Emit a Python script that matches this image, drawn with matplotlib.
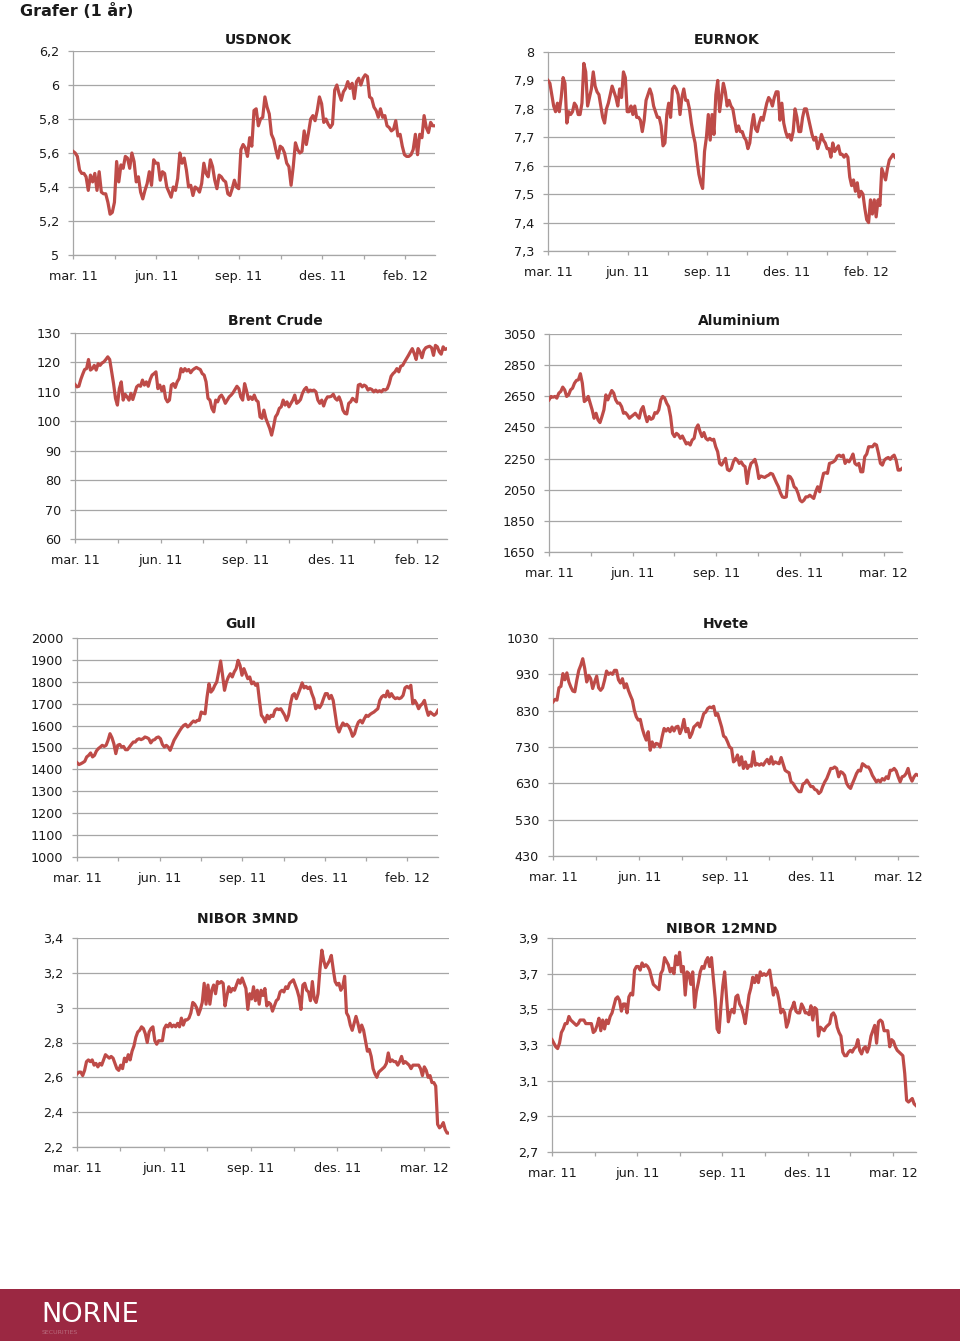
import matplotlib
matplotlib.use("Agg")
import matplotlib.pyplot as plt
from matplotlib.patches import Rectangle

plt.rcParams["font.family"] = ["DejaVu Sans"]

W, H = 960, 1341
RED = "#BE4B48"
GRID = "#A6A6A6"
TXT = "#1a1a1a"

labels_feb = ["mar. 11", "jun. 11", "sep. 11", "des. 11", "feb. 12"]
labels_mar = ["mar. 11", "jun. 11", "sep. 11", "des. 11", "mar. 12"]

# --- data (one year of daily-ish closes) ---
usdnok = [5.61, 5.60, 5.58, 5.50, 5.48, 5.48, 5.46, 5.38, 5.47, 5.43, 5.48, 5.38, 5.49, 5.37,
          5.36, 5.36, 5.31, 5.24, 5.25, 5.31, 5.55, 5.43, 5.53, 5.51, 5.58, 5.57, 5.51, 5.60,
          5.55, 5.43, 5.46, 5.37, 5.33, 5.38, 5.42, 5.49, 5.41, 5.56, 5.54, 5.54, 5.44, 5.49,
          5.48, 5.40, 5.37, 5.34, 5.40, 5.38, 5.45, 5.60, 5.54, 5.57, 5.50, 5.40, 5.41, 5.35,
          5.40, 5.39, 5.37, 5.42, 5.54, 5.48, 5.46, 5.56, 5.52, 5.44, 5.39, 5.47, 5.46, 5.44,
          5.43, 5.36, 5.35, 5.39, 5.44, 5.40, 5.39, 5.62, 5.65, 5.63, 5.58, 5.69, 5.64, 5.85,
          5.86, 5.76, 5.80, 5.81, 5.93, 5.87, 5.83, 5.71, 5.68, 5.62, 5.57, 5.64, 5.63, 5.60,
          5.54, 5.52, 5.41, 5.52, 5.66, 5.62, 5.60, 5.61, 5.73, 5.65, 5.72, 5.80, 5.82, 5.79,
          5.85, 5.93, 5.89, 5.78, 5.80, 5.77, 5.75, 5.77, 5.97, 6.00, 5.95, 5.91, 5.96, 5.98,
          6.02, 5.98, 6.01, 5.92, 6.02, 6.04, 6.00, 6.04, 6.06, 6.05, 5.93, 5.92, 5.87, 5.85,
          5.81, 5.86, 5.81, 5.82, 5.76, 5.75, 5.73, 5.74, 5.79, 5.70, 5.71, 5.64, 5.59, 5.58,
          5.58, 5.59, 5.62, 5.71, 5.59, 5.71, 5.69, 5.82, 5.75, 5.72, 5.78, 5.76, 5.76]
usdnok_ticks = [5.0, 5.2, 5.4, 5.6, 5.8, 6.0, 6.2]

eurnok = [7.90, 7.89, 7.85, 7.81, 7.79, 7.82, 7.79, 7.84, 7.91, 7.89, 7.75, 7.79, 7.78, 7.79,
          7.82, 7.81, 7.78, 7.78, 7.82, 7.96, 7.93, 7.81, 7.84, 7.87, 7.93, 7.88, 7.86, 7.85,
          7.81, 7.77, 7.75, 7.80, 7.82, 7.85, 7.88, 7.86, 7.84, 7.81, 7.87, 7.84, 7.93, 7.91,
          7.79, 7.79, 7.81, 7.78, 7.81, 7.77, 7.77, 7.76, 7.72, 7.76, 7.83, 7.85, 7.87, 7.85,
          7.81, 7.79, 7.77, 7.77, 7.74, 7.67, 7.68, 7.78, 7.82, 7.77, 7.87, 7.88, 7.87, 7.85,
          7.78, 7.84, 7.87, 7.83, 7.83, 7.80, 7.75, 7.71, 7.68, 7.62, 7.57, 7.54, 7.52, 7.65,
          7.70, 7.78, 7.69, 7.78, 7.71, 7.85, 7.90, 7.79, 7.84, 7.89, 7.86, 7.81, 7.83, 7.81,
          7.80, 7.76, 7.72, 7.74, 7.72, 7.72, 7.70, 7.69, 7.66, 7.68, 7.74, 7.78, 7.73, 7.72,
          7.75, 7.77, 7.76, 7.79, 7.82, 7.84, 7.83, 7.81, 7.84, 7.86, 7.86, 7.76, 7.82, 7.75,
          7.72, 7.70, 7.71, 7.69, 7.72, 7.80, 7.77, 7.72, 7.72, 7.77, 7.80, 7.80, 7.77, 7.74,
          7.71, 7.69, 7.70, 7.66, 7.68, 7.71, 7.69, 7.68, 7.66, 7.66, 7.63, 7.68, 7.65, 7.66,
          7.67, 7.64, 7.64, 7.63, 7.64, 7.63, 7.56, 7.53, 7.55, 7.51, 7.54, 7.49, 7.51, 7.50,
          7.45, 7.41, 7.40, 7.48, 7.43, 7.48, 7.42, 7.48, 7.46, 7.59, 7.57, 7.55, 7.59, 7.62,
          7.63, 7.64, 7.63]
eurnok_ticks = [7.3, 7.4, 7.5, 7.6, 7.7, 7.8, 7.9, 8.0]

brent = [112.5, 111.7, 111.9, 114.2, 116.0, 117.6, 117.9, 121.0, 117.4, 117.9, 119.0, 117.4,
         119.6, 119.0, 119.8, 120.2, 121.0, 121.9, 121.0, 116.8, 112.8, 107.8, 105.5, 111.1,
         113.4, 107.2, 109.2, 108.3, 107.2, 109.5, 107.4, 109.5, 111.7, 112.3, 111.9, 114.0,
         112.3, 113.4, 111.9, 114.2, 115.7, 116.2, 116.8, 111.1, 112.3, 110.4, 111.9, 107.8,
         106.6, 107.2, 112.3, 112.8, 111.5, 113.4, 114.5, 117.9, 116.8, 117.9, 117.1, 117.6,
         116.5, 117.4, 117.9, 118.3, 117.9, 117.6, 116.2, 115.7, 113.4, 107.8, 107.2, 104.4,
         103.2, 107.2, 106.6, 108.3, 108.9, 107.8, 106.1, 107.2, 108.3, 108.9, 109.7, 110.8,
         111.9, 111.1, 108.3, 107.2, 112.8, 110.4, 107.4, 108.3, 107.4, 108.9, 107.2, 106.6,
         101.5, 101.0, 103.8, 101.0, 99.3, 97.6, 95.3, 98.2, 101.5, 102.5, 104.4, 104.9,
         107.2, 105.5, 106.6, 104.9, 106.1, 107.2, 108.9, 106.1, 106.6, 107.4, 109.5, 110.8,
         111.5, 110.0, 110.6, 110.4, 110.6, 110.0, 107.2, 106.1, 107.2, 105.2, 107.2, 108.3,
         108.3, 108.5, 109.2, 107.8, 107.2, 108.3, 106.6, 103.8, 102.7, 102.5, 106.1, 106.6,
         107.8, 107.2, 106.6, 112.3, 112.6, 111.7, 112.3, 111.9, 110.6, 111.1, 110.8, 110.0,
         110.6, 110.0, 110.4, 110.0, 110.8, 110.6, 111.1, 112.8, 115.3, 116.2, 116.8, 117.9,
         116.8, 118.7, 119.0, 120.2, 121.3, 122.4, 123.6, 124.7, 123.0, 121.0, 124.7, 123.6,
         121.6, 124.1, 125.0, 125.3, 125.5, 125.0, 122.4, 125.8, 125.3, 123.6, 122.8, 125.3,
         124.4, 124.7]
brent_ticks = [60, 70, 80, 90, 100, 110, 120, 130]

aluminium = [2627, 2649, 2644, 2649, 2638, 2670, 2681, 2709, 2691, 2649, 2659, 2691, 2702,
             2734, 2752, 2756, 2795, 2734, 2616, 2627, 2649, 2606, 2563, 2509, 2541, 2498,
             2481, 2520, 2563, 2659, 2627, 2659, 2687, 2670, 2627, 2606, 2606, 2584, 2541,
             2545, 2530, 2509, 2520, 2530, 2541, 2524, 2509, 2563, 2584, 2530, 2487, 2520,
             2502, 2509, 2545, 2541, 2563, 2627, 2649, 2638, 2606, 2584, 2520, 2412, 2391,
             2412, 2402, 2380, 2395, 2369, 2344, 2352, 2337, 2369, 2380, 2444, 2466, 2423,
             2391, 2417, 2380, 2369, 2380, 2369, 2374, 2326, 2294, 2219, 2208, 2229, 2251,
             2180, 2172, 2187, 2229, 2251, 2240, 2219, 2229, 2208, 2198, 2090, 2176, 2219,
             2229, 2245, 2198, 2122, 2138, 2133, 2129, 2138, 2144, 2155, 2150, 2122, 2094,
             2069, 2030, 2004, 2000, 2004, 2138, 2133, 2112, 2069, 2058, 2026, 1983, 1972,
             1983, 2004, 2004, 2015, 2004, 1994, 2037, 2069, 2037, 2101, 2155, 2159, 2155,
             2219, 2223, 2229, 2240, 2266, 2272, 2262, 2272, 2219, 2240, 2229, 2251, 2279,
             2219, 2208, 2219, 2165, 2165, 2262, 2279, 2326, 2326, 2326, 2344, 2337, 2283,
             2219, 2208, 2240, 2251, 2257, 2245, 2262, 2272, 2240, 2176, 2176, 2187]
aluminium_ticks = [1650, 1850, 2050, 2250, 2450, 2650, 2850, 3050]

gull = [1431, 1422, 1426, 1431, 1437, 1457, 1464, 1475, 1457, 1464, 1484, 1495, 1502, 1510,
        1505, 1510, 1533, 1563, 1545, 1517, 1472, 1510, 1514, 1502, 1505, 1490, 1490, 1502,
        1514, 1525, 1525, 1536, 1540, 1536, 1540, 1548, 1545, 1540, 1521, 1533, 1536, 1545,
        1548, 1540, 1514, 1502, 1510, 1502, 1487, 1510, 1533, 1548, 1563, 1578, 1591, 1601,
        1606, 1594, 1601, 1612, 1621, 1616, 1624, 1624, 1662, 1657, 1654, 1731, 1791, 1753,
        1764, 1784, 1799, 1845, 1895, 1830, 1761, 1799, 1822, 1837, 1822, 1845, 1860, 1898,
        1875, 1830, 1860, 1837, 1814, 1822, 1791, 1799, 1784, 1791, 1715, 1647, 1636, 1616,
        1647, 1631, 1647, 1642, 1670, 1677, 1673, 1677, 1662, 1647, 1624, 1647, 1700, 1738,
        1746, 1723, 1746, 1769, 1795, 1772, 1779, 1769, 1776, 1746, 1723, 1677, 1692, 1682,
        1697, 1723, 1746, 1746, 1723, 1738, 1715, 1654, 1594, 1571, 1594, 1612, 1601, 1606,
        1597, 1578, 1551, 1563, 1594, 1616, 1624, 1612, 1631, 1647, 1642, 1651, 1657, 1662,
        1670, 1677, 1715, 1731, 1738, 1731, 1758, 1731, 1746, 1731, 1723, 1727, 1723, 1727,
        1738, 1772, 1779, 1772, 1784, 1700, 1715, 1700, 1677, 1692, 1700, 1715, 1677, 1647,
        1662, 1654, 1647, 1654, 1670]
gull_ticks = [1000, 1100, 1200, 1300, 1400, 1500, 1600, 1700, 1800, 1900, 2000]

hvete = [854, 861, 859, 893, 897, 932, 915, 934, 909, 895, 884, 882, 914, 941, 955, 973, 946,
         909, 927, 918, 891, 909, 925, 893, 886, 893, 914, 939, 930, 934, 930, 941, 941, 915,
         906, 918, 893, 904, 886, 872, 859, 831, 813, 804, 806, 781, 763, 749, 772, 721, 744,
         730, 740, 738, 730, 758, 781, 774, 781, 772, 785, 774, 785, 787, 767, 781, 806, 772,
         781, 756, 767, 785, 790, 796, 785, 804, 822, 826, 836, 840, 838, 842, 817, 822, 804,
         785, 760, 756, 744, 730, 726, 689, 694, 708, 680, 703, 671, 689, 671, 680, 677, 717,
         680, 684, 680, 684, 680, 689, 696, 684, 703, 683, 689, 686, 684, 701, 684, 666, 662,
         659, 634, 630, 621, 613, 607, 607, 628, 631, 639, 630, 621, 621, 613, 611, 602, 607,
         622, 634, 643, 657, 671, 671, 675, 671, 648, 662, 659, 652, 630, 621, 616, 630, 643,
         657, 666, 664, 684, 680, 675, 675, 666, 652, 643, 634, 639, 634, 643, 639, 648, 643,
         666, 666, 671, 664, 648, 634, 648, 650, 657, 671, 648, 636, 648, 655, 652]
hvete_ticks = [430, 530, 630, 730, 830, 930, 1030]

nibor3 = [2.62, 2.63, 2.63, 2.61, 2.64, 2.69, 2.70, 2.69, 2.70, 2.67, 2.68, 2.66, 2.68, 2.67,
          2.70, 2.73, 2.72, 2.71, 2.72, 2.71, 2.68, 2.65, 2.64, 2.67, 2.65, 2.71, 2.69, 2.73,
          2.70, 2.75, 2.78, 2.83, 2.86, 2.87, 2.89, 2.88, 2.85, 2.80, 2.86, 2.88, 2.89, 2.81,
          2.79, 2.81, 2.81, 2.81, 2.88, 2.90, 2.89, 2.91, 2.89, 2.90, 2.89, 2.91, 2.89, 2.94,
          2.90, 2.93, 2.93, 2.94, 2.97, 3.03, 3.02, 3.00, 2.96, 2.99, 3.03, 3.14, 3.02, 3.13,
          3.02, 3.10, 3.13, 3.08, 3.15, 3.14, 3.15, 3.14, 3.01, 3.07, 3.12, 3.09, 3.11, 3.10,
          3.13, 3.16, 3.14, 3.17, 3.14, 3.11, 2.99, 3.08, 3.05, 3.12, 3.04, 3.10, 3.02, 3.10,
          3.07, 3.11, 3.01, 3.03, 3.02, 2.98, 3.01, 3.04, 3.05, 3.09, 3.10, 3.09, 3.12, 3.11,
          3.14, 3.15, 3.16, 3.13, 3.10, 3.06, 2.99, 3.13, 3.14, 3.10, 3.09, 3.04, 3.15, 3.05,
          3.03, 3.08, 3.22, 3.33, 3.27, 3.23, 3.25, 3.27, 3.30, 3.22, 3.15, 3.13, 3.14, 3.10,
          3.12, 3.18, 2.97, 2.95, 2.90, 2.87, 2.91, 2.95, 2.91, 2.86, 2.90, 2.87, 2.81, 2.75,
          2.76, 2.72, 2.65, 2.62, 2.60, 2.63, 2.64, 2.65, 2.66, 2.68, 2.74, 2.69, 2.70, 2.69,
          2.69, 2.67, 2.69, 2.72, 2.68, 2.69, 2.68, 2.67, 2.65, 2.67, 2.67, 2.67, 2.67, 2.65,
          2.61, 2.66, 2.64, 2.60, 2.61, 2.57, 2.57, 2.55, 2.33, 2.31, 2.32, 2.34, 2.30, 2.28,
          2.28]
nibor3_ticks = [2.2, 2.4, 2.6, 2.8, 3.0, 3.2, 3.4]

nibor12 = [3.33, 3.31, 3.29, 3.28, 3.31, 3.37, 3.39, 3.42, 3.42, 3.46, 3.44, 3.43, 3.42, 3.41,
           3.42, 3.44, 3.44, 3.44, 3.42, 3.42, 3.42, 3.42, 3.37, 3.38, 3.41, 3.45, 3.38, 3.44,
           3.39, 3.44, 3.42, 3.46, 3.48, 3.52, 3.56, 3.57, 3.55, 3.49, 3.53, 3.53, 3.48, 3.57,
           3.59, 3.58, 3.72, 3.74, 3.74, 3.72, 3.76, 3.74, 3.75, 3.74, 3.72, 3.68, 3.64, 3.63,
           3.62, 3.61, 3.70, 3.72, 3.79, 3.77, 3.75, 3.71, 3.73, 3.70, 3.80, 3.75, 3.82, 3.71,
           3.74, 3.58, 3.71, 3.70, 3.64, 3.71, 3.51, 3.60, 3.65, 3.71, 3.74, 3.73, 3.77, 3.79,
           3.74, 3.79, 3.67, 3.56, 3.39, 3.37, 3.51, 3.63, 3.71, 3.57, 3.43, 3.48, 3.50, 3.48,
           3.57, 3.58, 3.53, 3.51, 3.47, 3.42, 3.50, 3.58, 3.62, 3.68, 3.65, 3.69, 3.65, 3.71,
           3.69, 3.70, 3.69, 3.70, 3.72, 3.65, 3.58, 3.62, 3.60, 3.55, 3.48, 3.50, 3.48, 3.40,
           3.43, 3.49, 3.51, 3.54, 3.49, 3.48, 3.48, 3.53, 3.51, 3.48, 3.48, 3.47, 3.52, 3.44,
           3.51, 3.50, 3.35, 3.40, 3.39, 3.38, 3.40, 3.41, 3.42, 3.47, 3.48, 3.46, 3.40, 3.37,
           3.35, 3.26, 3.24, 3.24, 3.26, 3.27, 3.26, 3.28, 3.29, 3.33, 3.27, 3.25, 3.28, 3.29,
           3.26, 3.29, 3.35, 3.38, 3.41, 3.31, 3.43, 3.44, 3.43, 3.38, 3.38, 3.38, 3.29, 3.33,
           3.32, 3.29, 3.27, 3.26, 3.25, 3.24, 3.14, 2.99, 2.98, 2.99, 3.00, 2.97, 2.96]
nibor12_ticks = [2.7, 2.9, 3.1, 3.3, 3.5, 3.7, 3.9]

# layout in pixels: (title, values, yticks, xlabels, left, top, right, bottom, span in ticks,
#                    title centre x, title centre y)
panels = [
    ("USDNOK", usdnok, usdnok_ticks, labels_feb, 73, 51, 435, 255, 8.72, 258, 40),
    ("EURNOK", eurnok, eurnok_ticks, labels_feb, 548, 52, 895, 251, 8.71, 727, 40),
    ("Brent Crude", brent, brent_ticks, labels_feb, 75, 333, 447, 539, 8.70, 275, 321),
    ("Aluminium", aluminium, aluminium_ticks, labels_mar, 549, 334, 902, 552, 8.44, 739, 321),
    ("Gull", gull, gull_ticks, labels_feb, 77, 638, 438, 857, 8.74, 240, 624),
    ("Hvete", hvete, hvete_ticks, labels_mar, 553, 638, 918, 856, 8.46, 726, 624),
    ("NIBOR 3MND", nibor3, nibor3_ticks, labels_mar, 77, 938, 449, 1147, 8.57, 248, 919),
    ("NIBOR 12MND", nibor12, nibor12_ticks, labels_mar, 552, 938, 916, 1152, 8.54, 722, 929),
]


def fmt(v):
    return ("%g" % v).replace(".", ",")


def draw_panel(fig, title, values, yticks, xlabels, l, t, r, b, span, tx, ty):
    ax = fig.add_axes([l / W, 1 - b / H, (r - l) / W, (b - t) / H])
    n = len(values)
    ax.plot(range(n), values, color=RED, lw=2.3, solid_joinstyle="round", zorder=3)
    ax.set_xlim(0, n - 1)
    ax.set_ylim(yticks[0], yticks[-1])

    step = (n - 1) / span
    ticks = [k * step for k in range(9)]
    lab = []
    for k in range(9):
        lab.append(xlabels[k // 2] if k % 2 == 0 else "")
    ax.set_xticks(ticks)
    ax.set_xticklabels(lab)
    ax.set_yticks(yticks)
    ax.set_yticklabels([fmt(v) for v in yticks])

    ax.grid(axis="y", color=GRID, lw=0.9)
    ax.set_axisbelow(True)
    for s in ["top", "right"]:
        ax.spines[s].set_visible(False)
    for s in ["left", "bottom"]:
        ax.spines[s].set_color(GRID)
        ax.spines[s].set_linewidth(0.9)
    ax.tick_params(axis="x", length=3, width=0.9, color=GRID, pad=8, labelsize=9.2,
                   labelcolor=TXT)
    ax.tick_params(axis="y", length=3.5, width=0.9, color=GRID, pad=6.5, labelsize=9.2,
                   labelcolor=TXT)
    fig.text(tx / W, 1 - ty / H, title, ha="center", va="center", fontsize=10,
             fontweight="bold", color=TXT)
    return ax


fig = plt.figure(figsize=(W / 100, H / 100), dpi=100)
fig.patch.set_facecolor("white")

fig.text(20 / W, 1 - 11 / H, "Grafer (1 år)", ha="left", va="center", fontsize=11.5,
         fontweight="bold", color=TXT)

for p in panels:
    draw_panel(fig, *p)

# footer bar
fig.patches.append(Rectangle((0, 0), 1, (H - 1289) / H, transform=fig.transFigure,
                             facecolor="#9B2842", edgecolor="none", zorder=0))
fig.text(41 / W, 1 - 1315 / H, "NORNE", ha="left", va="center", fontsize=19.5,
         color="white")
fig.text(42 / W, 1 - 1333 / H, "SECURITIES", ha="left", va="center", fontsize=4.5,
         color="#B86A7C")

fig.savefig("out.png", dpi=100)
